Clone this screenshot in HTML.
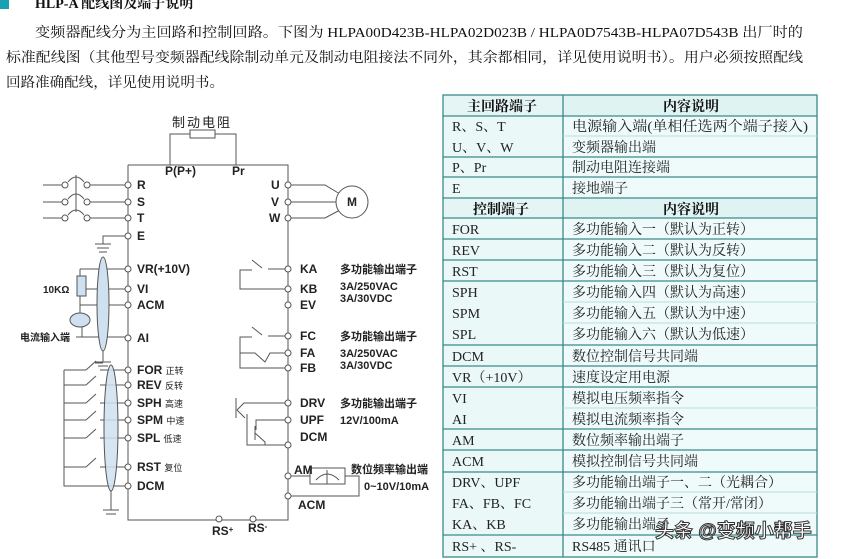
<!DOCTYPE html>
<html><head><meta charset="utf-8"><style>
html,body{margin:0;padding:0;background:#fff;}
body{width:849px;height:559px;overflow:hidden;position:relative;font-family:"Liberation Serif","Noto Serif CJK SC",serif;}
svg{position:absolute;left:0;top:0;}
.s{font-family:"Liberation Sans","Noto Sans CJK SC",sans-serif;font-weight:bold;font-size:12px;fill:#222;}
.t{font-family:"Liberation Serif","Noto Serif CJK SC",serif;font-size:14px;fill:#111;}
.tb{font-family:"Liberation Serif","Noto Serif CJK SC",serif;font-size:14px;font-weight:bold;fill:#111;}
.c{font-family:"Liberation Serif","Noto Serif CJK SC",serif;font-size:14px;fill:#222;}
</style></head><body>
<svg width="849" height="559" viewBox="0 0 849 559" xmlns="http://www.w3.org/2000/svg">
<rect x="0" y="0" width="9" height="9" fill="#1aa0b0"/>
<text x="35" y="8" class="tb">HLP-A 配线图及端子说明</text>
<text x="35" y="37" class="t" textLength="768" lengthAdjust="spacingAndGlyphs">变频器配线分为主回路和控制回路。下图为 HLPA00D423B-HLPA02D023B / HLPA0D7543B-HLPA07D543B 出厂时的</text>
<text x="6" y="62" class="t" textLength="797" lengthAdjust="spacingAndGlyphs">标准配线图（其他型号变频器配线除制动单元及制动电阻接法不同外，其余都相同，详见使用说明书）。用户必须按照配线</text>
<text x="6" y="87" class="t" textLength="218" lengthAdjust="spacingAndGlyphs">回路准确配线，详见使用说明书。</text>

<g stroke="#555" stroke-width="1" fill="none">
<polyline points="128,165 288,165 288,520 128,520 128,165"/>
<polyline points="170,165 170,134 190,134"/><polyline points="215,134 236,134 236,165"/>
<rect x="190" y="130" width="25" height="8" fill="#fff"/>
<line x1="43" y1="185" x2="62" y2="185"/><line x1="90" y1="185" x2="125" y2="185"/>
<line x1="43" y1="202" x2="62" y2="202"/><line x1="90" y1="202" x2="125" y2="202"/>
<line x1="43" y1="218" x2="62" y2="218"/><line x1="90" y1="218" x2="125" y2="218"/>
<circle cx="65" cy="185" r="3"/><circle cx="87" cy="185" r="3"/>
<circle cx="65" cy="202" r="3"/><circle cx="87" cy="202" r="3"/>
<circle cx="65" cy="218" r="3"/><circle cx="87" cy="218" r="3"/>
<path d="M68,182 Q76,172 84,182 M68,199 Q76,189 84,199 M68,215 Q76,205 84,215"/>
<line x1="76" y1="175" x2="76" y2="212"/>
<polyline points="125,236 103,236 103,244"/>
<line x1="95" y1="244" x2="111" y2="244"/><line x1="97" y1="248" x2="109" y2="248"/><line x1="99" y1="252" x2="107" y2="252"/>
<line x1="80" y1="269" x2="125" y2="269"/><line x1="80" y1="269" x2="80" y2="276"/>
<rect x="77" y="276" width="9" height="20" fill="#cfe0f0"/>
<line x1="86" y1="289" x2="125" y2="289"/>
<line x1="80" y1="296" x2="80" y2="305"/><line x1="80" y1="305" x2="125" y2="305"/>
<line x1="80" y1="305" x2="80" y2="313"/>
<ellipse cx="80" cy="320" rx="10" ry="7" fill="#cfe0f0"/>
<polyline points="76,337 82,337 82,327"/><line x1="82" y1="337" x2="125" y2="337"/>
<ellipse cx="103" cy="304" rx="6" ry="47" fill="#cfe0f0"/>
<line x1="103" y1="351" x2="103" y2="362"/>
<line x1="95" y1="362" x2="111" y2="362"/><line x1="98" y1="366" x2="108" y2="366"/>
<polyline points="125,486 64,486 64,370"/>
<g>
<line x1="64" y1="370" x2="86" y2="370"/><line x1="86" y1="370" x2="96" y2="361"/><line x1="100" y1="370" x2="125" y2="370"/>
<line x1="64" y1="385" x2="86" y2="385"/><line x1="86" y1="385" x2="96" y2="376"/><line x1="100" y1="385" x2="125" y2="385"/>
<line x1="64" y1="403" x2="86" y2="403"/><line x1="86" y1="403" x2="96" y2="394"/><line x1="100" y1="403" x2="125" y2="403"/>
<line x1="64" y1="420" x2="86" y2="420"/><line x1="86" y1="420" x2="96" y2="411"/><line x1="100" y1="420" x2="125" y2="420"/>
<line x1="64" y1="438" x2="86" y2="438"/><line x1="86" y1="438" x2="96" y2="429"/><line x1="100" y1="438" x2="125" y2="438"/>
<line x1="64" y1="467" x2="86" y2="467"/><line x1="86" y1="467" x2="96" y2="458"/><line x1="100" y1="467" x2="125" y2="467"/>
</g>
<line x1="95" y1="363" x2="103" y2="363"/>
<ellipse cx="111" cy="428" rx="7" ry="63" fill="#cfe0f0" fill-opacity="0.85"/>
<line x1="111" y1="491" x2="111" y2="510"/>
<line x1="103" y1="510" x2="119" y2="510"/><line x1="106" y1="514" x2="116" y2="514"/>
<polyline points="291,185 325,185 340,194"/>
<line x1="291" y1="202" x2="336" y2="202"/>
<polyline points="291,218 325,218 340,210"/>
<circle cx="352" cy="202" r="16" fill="#fff"/>
<line x1="268" y1="269" x2="285" y2="269"/>
<polyline points="262,268 252,260"/>
<polyline points="252,270 240,270 240,289 285,289"/>
<line x1="268" y1="336" x2="285" y2="336"/>
<polyline points="262,335 252,327"/>
<polyline points="252,337 240,337 240,368 285,368"/>
<polyline points="240,353 255,353 265,362 270,353 285,353"/>
<polyline points="285,403 244,403 237,410"/><line x1="236" y1="398" x2="236" y2="418"/><line x1="237" y1="410" x2="245" y2="418"/>
<polyline points="285,420 256,420 256,430"/><line x1="255" y1="426" x2="255" y2="440"/>
<polyline points="255,433 265,442 265,445 285,445"/>
<polyline points="247,414 247,445 265,445"/>
<line x1="291" y1="476" x2="310" y2="476"/>
<rect x="310" y="468" width="35" height="16" fill="#fff"/>
<path d="M316,480 Q327,468 339,480"/><line x1="327" y1="470" x2="327" y2="484"/>
<polyline points="345,476 359,476 359,496 291,496"/>
</g>
<g fill="#fff" stroke="#555" stroke-width="1">
<circle cx="128" cy="185" r="3"/><circle cx="128" cy="202" r="3"/><circle cx="128" cy="218" r="3"/><circle cx="128" cy="236" r="3"/>
<circle cx="128" cy="269" r="3"/><circle cx="128" cy="289" r="3"/><circle cx="128" cy="305" r="3"/><circle cx="128" cy="338" r="3"/>
<circle cx="128" cy="370" r="3"/><circle cx="128" cy="385" r="3"/><circle cx="128" cy="403" r="3"/><circle cx="128" cy="420" r="3"/>
<circle cx="128" cy="438" r="3"/><circle cx="128" cy="467" r="3"/><circle cx="128" cy="486" r="3"/>
<circle cx="288" cy="185" r="3"/><circle cx="288" cy="202" r="3"/><circle cx="288" cy="218" r="3"/>
<circle cx="288" cy="269" r="3"/><circle cx="288" cy="289" r="3"/><circle cx="288" cy="305" r="3"/>
<circle cx="288" cy="336" r="3"/><circle cx="288" cy="353" r="3"/><circle cx="288" cy="368" r="3"/>
<circle cx="288" cy="403" r="3"/><circle cx="288" cy="420" r="3"/><circle cx="288" cy="445" r="3"/>
<circle cx="288" cy="476" r="3"/><circle cx="288" cy="496" r="3"/>
<circle cx="219" cy="519" r="3"/><circle cx="253" cy="519" r="3"/>
</g>
<g class="s">
<text x="172" y="127" style="font-weight:normal;font-size:13px" letter-spacing="2">制动电阻</text>
<text x="165" y="175">P(P+)</text><text x="232" y="175">Pr</text>
<text x="137" y="189">R</text><text x="137" y="206">S</text><text x="137" y="222">T</text><text x="137" y="240">E</text>
<text x="137" y="273">VR(+10V)</text><text x="137" y="293">VI</text><text x="137" y="309">ACM</text><text x="137" y="342">AI</text>
<text x="137" y="374">FOR <tspan style="font-weight:normal;font-size:9px">正转</tspan></text>
<text x="137" y="389">REV <tspan style="font-weight:normal;font-size:9px">反转</tspan></text>
<text x="137" y="407">SPH <tspan style="font-weight:normal;font-size:9px">高速</tspan></text>
<text x="137" y="424">SPM <tspan style="font-weight:normal;font-size:9px">中速</tspan></text>
<text x="137" y="442">SPL <tspan style="font-weight:normal;font-size:9px">低速</tspan></text>
<text x="137" y="471">RST <tspan style="font-weight:normal;font-size:9px">复位</tspan></text>
<text x="137" y="490">DCM</text>
<text x="43" y="293" style="font-size:10px">10KΩ</text>
<text x="20" y="341" style="font-size:10px">电流输入端</text>
<text x="271" y="189">U</text><text x="271" y="206">V</text><text x="269" y="222">W</text>
<text x="347" y="206">M</text>
<text x="300" y="273">KA</text><text x="300" y="293">KB</text><text x="300" y="309">EV</text>
<text x="300" y="340">FC</text><text x="300" y="357">FA</text><text x="300" y="372">FB</text>
<text x="300" y="407">DRV</text><text x="300" y="424">UPF</text><text x="300" y="441">DCM</text>
<text x="294" y="474">AM</text><text x="298" y="509">ACM</text>
<text x="340" y="273" style="font-size:11px">多功能输出端子</text>
<text x="340" y="290" style="font-size:11px">3A/250VAC</text><text x="340" y="302" style="font-size:11px">3A/30VDC</text>
<text x="340" y="340" style="font-size:11px">多功能输出端子</text>
<text x="340" y="357" style="font-size:11px">3A/250VAC</text><text x="340" y="369" style="font-size:11px">3A/30VDC</text>
<text x="340" y="407" style="font-size:11px">多功能输出端子</text>
<text x="340" y="424" style="font-size:11px">12V/100mA</text>
<text x="351" y="473" style="font-size:11px">数位频率输出端</text>
<text x="364" y="490" style="font-size:11px">0~10V/10mA</text>
<text x="212" y="535">RS<tspan font-size="8" dy="-3">+</tspan></text>
<text x="248" y="532">RS<tspan font-size="8" dy="-3">-</tspan></text>
</g>

<g>
<rect x="443" y="95" width="374" height="462" fill="#effbfb"/>
<rect x="443" y="95" width="374" height="21" fill="#e0f3f3"/>
<rect x="443" y="198" width="374" height="20" fill="#e0f3f3"/>
<rect x="443" y="95" width="120" height="462" fill="#e8f6f6" fill-opacity="0.6"/>
<g stroke="#3a8a8a" stroke-width="1.3" fill="none">
<rect x="443" y="95" width="374" height="462"/>
<line x1="563" y1="95" x2="563" y2="557"/>
<line x1="443" y1="116" x2="817" y2="116"/>
<line x1="443" y1="157" x2="817" y2="157"/>
<line x1="443" y1="177" x2="817" y2="177"/>
<line x1="443" y1="198" x2="817" y2="198"/>
<line x1="443" y1="218" x2="817" y2="218"/>
<line x1="443" y1="239" x2="817" y2="239"/>
<line x1="443" y1="260" x2="817" y2="260"/>
<line x1="443" y1="281" x2="817" y2="281"/>
<line x1="443" y1="345" x2="817" y2="345"/>
<line x1="443" y1="366" x2="817" y2="366"/>
<line x1="443" y1="387" x2="817" y2="387"/>
<line x1="443" y1="429" x2="817" y2="429"/>
<line x1="443" y1="450" x2="817" y2="450"/>
<line x1="443" y1="472" x2="817" y2="472"/>
<line x1="443" y1="535" x2="817" y2="535"/>
</g>
<g stroke="#b8dede" stroke-width="1">
<line x1="563" y1="136" x2="817" y2="136"/>
<line x1="563" y1="302" x2="817" y2="302"/>
<line x1="563" y1="323" x2="817" y2="323"/>
<line x1="563" y1="408" x2="817" y2="408"/>
<line x1="563" y1="492" x2="817" y2="492"/>
<line x1="563" y1="513" x2="817" y2="513"/>
</g>
<g class="tb"><text x="467" y="111">主回路端子</text><text x="663" y="111">内容说明</text>
<text x="473" y="214">控制端子</text><text x="663" y="214">内容说明</text></g>
<g class="c">
<text x="452" y="131">R、S、T</text><text x="572" y="131" textLength="236" lengthAdjust="spacingAndGlyphs">电源输入端(单相任选两个端子接入)</text>
<text x="452" y="152">U、V、W</text><text x="572" y="152">变频器输出端</text>
<text x="452" y="172">P、Pr</text><text x="572" y="172">制动电阻连接端</text>
<text x="452" y="193">E</text><text x="572" y="193">接地端子</text>
<text x="452" y="234">FOR</text><text x="572" y="234">多功能输入一（默认为正转）</text>
<text x="452" y="255">REV</text><text x="572" y="255">多功能输入二（默认为反转）</text>
<text x="452" y="276">RST</text><text x="572" y="276">多功能输入三（默认为复位）</text>
<text x="452" y="297">SPH</text><text x="572" y="297">多功能输入四（默认为高速）</text>
<text x="452" y="318">SPM</text><text x="572" y="318">多功能输入五（默认为中速）</text>
<text x="452" y="339">SPL</text><text x="572" y="339">多功能输入六（默认为低速）</text>
<text x="452" y="361">DCM</text><text x="572" y="361">数位控制信号共同端</text>
<text x="452" y="382">VR（+10V）</text><text x="572" y="382">速度设定用电源</text>
<text x="452" y="403">VI</text><text x="572" y="403">模拟电压频率指令</text>
<text x="452" y="424">AI</text><text x="572" y="424">模拟电流频率指令</text>
<text x="452" y="445">AM</text><text x="572" y="445">数位频率输出端子</text>
<text x="452" y="466">ACM</text><text x="572" y="466">模拟控制信号共同端</text>
<text x="452" y="487">DRV、UPF</text><text x="572" y="487">多功能输出端子一、二（光耦合）</text>
<text x="452" y="508">FA、FB、FC</text><text x="572" y="508">多功能输出端子三（常开/常闭）</text>
<text x="452" y="529">KA、KB</text><text x="572" y="529">多功能输出端子</text>
<text x="452" y="551">RS+ 、RS-</text><text x="572" y="551">RS485 通讯口</text>
</g>
</g>
<text x="655" y="537" style="font-family:'Liberation Sans','Noto Sans CJK SC',sans-serif;font-size:19px;font-weight:bold;fill:#fff;stroke:#333;stroke-width:1">头条 @变频小帮手</text>
</svg>
</body></html>
